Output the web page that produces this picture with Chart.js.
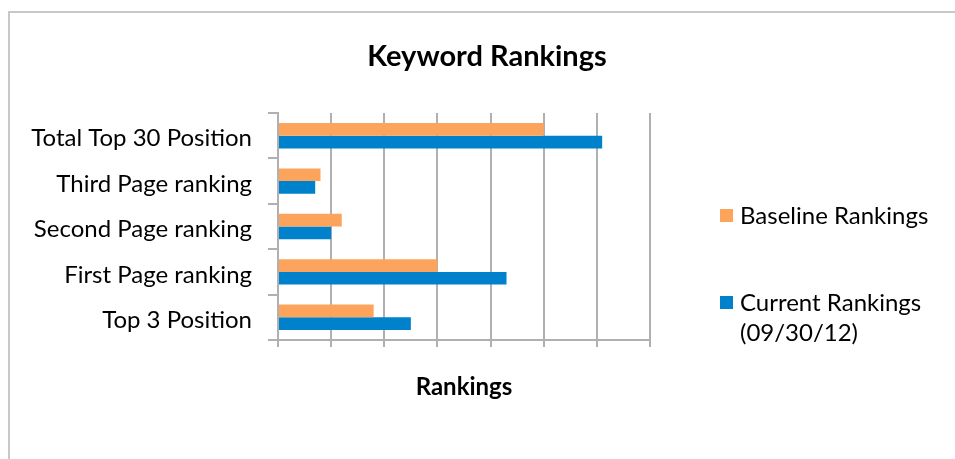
<!DOCTYPE html>
<html>
<head>
<meta charset="utf-8">
<title>Keyword Rankings</title>
<script src="https://cdn.jsdelivr.net/npm/chart.js@4.4.0/dist/chart.umd.min.js"></script>
<style>
  html, body { margin: 0; padding: 0; background: #fff; }
  #wrap { position: relative; width: 955px; height: 459px; overflow: hidden; }
  #frame { position: absolute; left: 8px; top: 11px; width: 960px; height: 460px;
           border-top: 2px solid #c8c8c8; border-left: 2px solid #c8c8c8; }
  canvas { position: absolute; left: 0; top: 0; }
</style>
</head>
<body>
<div id="wrap">
  <div id="frame"></div>
  <canvas id="chart" width="955" height="459"></canvas>
</div>
<script>
// data (one gridline = 10)
const categories = ['Total Top 30 Position', 'Third Page ranking', 'Second Page ranking', 'First Page ranking', 'Top 3 Position'];
const baselineValues = [50, 8, 12, 30, 18];
const currentValues = [61, 7, 10, 43, 25];
const seriesNames = ['Baseline Rankings', 'Current Rankings (09/30/12)'];
const xTicks = [0, 10, 20, 30, 40, 50, 60, 70];

const colors = {
    baseline: '#fda45c',
    current: '#0081cb',
    grid: '#b0b0b0'
};
const fontFamily = 'Lato, "Open Sans", sans-serif';

// title and side legend, drawn like the original spreadsheet chart
const sideLegend = {
    id: 'sideLegend',
    afterDraw(chart) {
        const ctx = chart.ctx;
        ctx.save();
        ctx.fillStyle = '#000';
        ctx.textBaseline = 'middle';
        ctx.textAlign = 'center';
        ctx.font = 'bold 29px ' + fontFamily;
        ctx.fillText('Keyword Rankings', 487, 57);

        ctx.textAlign = 'left';
        ctx.font = '24px ' + fontFamily;
        const rows = [
            { y: 216, lines: [seriesNames[0]] },
            { y: 303, lines: ['Current Rankings', '(09/30/12)'] }
        ];
        chart.data.datasets.forEach((ds, i) => {
            const r = rows[i];
            ctx.fillStyle = ds.backgroundColor;
            ctx.fillRect(720, r.y - 7, 13, 13);
            ctx.fillStyle = '#000';
            r.lines.forEach((t, j) => ctx.fillText(t, 740, r.y + j * 30));
        });
        ctx.restore();
    }
};

new Chart(document.getElementById('chart'), {
    type: 'bar',
    data: {
        labels: categories,
        datasets: [
            { label: seriesNames[0], data: baselineValues, backgroundColor: colors.baseline },
            { label: seriesNames[1], data: currentValues, backgroundColor: colors.current }
        ]
    },
    options: {
        indexAxis: 'y',
        responsive: false,
        animation: false,
        categoryPercentage: 0.56,
        barPercentage: 1.0,
        layout: { padding: { top: 113, right: 305, left: 0, bottom: 0 } },
        scales: {
            x: {
                min: 0,
                max: 70,
                afterBuildTicks: (s) => { s.ticks = xTicks.map(v => ({ value: v })); },
                ticks: { display: false },
                grid: { color: colors.grid, lineWidth: 2, tickLength: 7 },
                border: { color: colors.grid, width: 2 },
                title: {
                    display: true,
                    text: 'Rankings',
                    color: '#000',
                    font: { family: fontFamily, size: 24, weight: 'bold' },
                    padding: { top: 0, bottom: 57 }
                },
                afterFit: (s) => { s.height = 119; }
            },
            y: {
                grid: { drawOnChartArea: false, offset: true, color: colors.grid, lineWidth: 2, tickLength: 10 },
                border: { color: colors.grid, width: 2 },
                ticks: { color: '#000', padding: 16, labelOffset: 3, font: { family: fontFamily, size: 24 } },
                afterFit: (s) => { s.width = 278; }
            }
        },
        plugins: {
            legend: { display: false },
            tooltip: { enabled: false }
        }
    },
    plugins: [sideLegend]
});
</script>
</body>
</html>
